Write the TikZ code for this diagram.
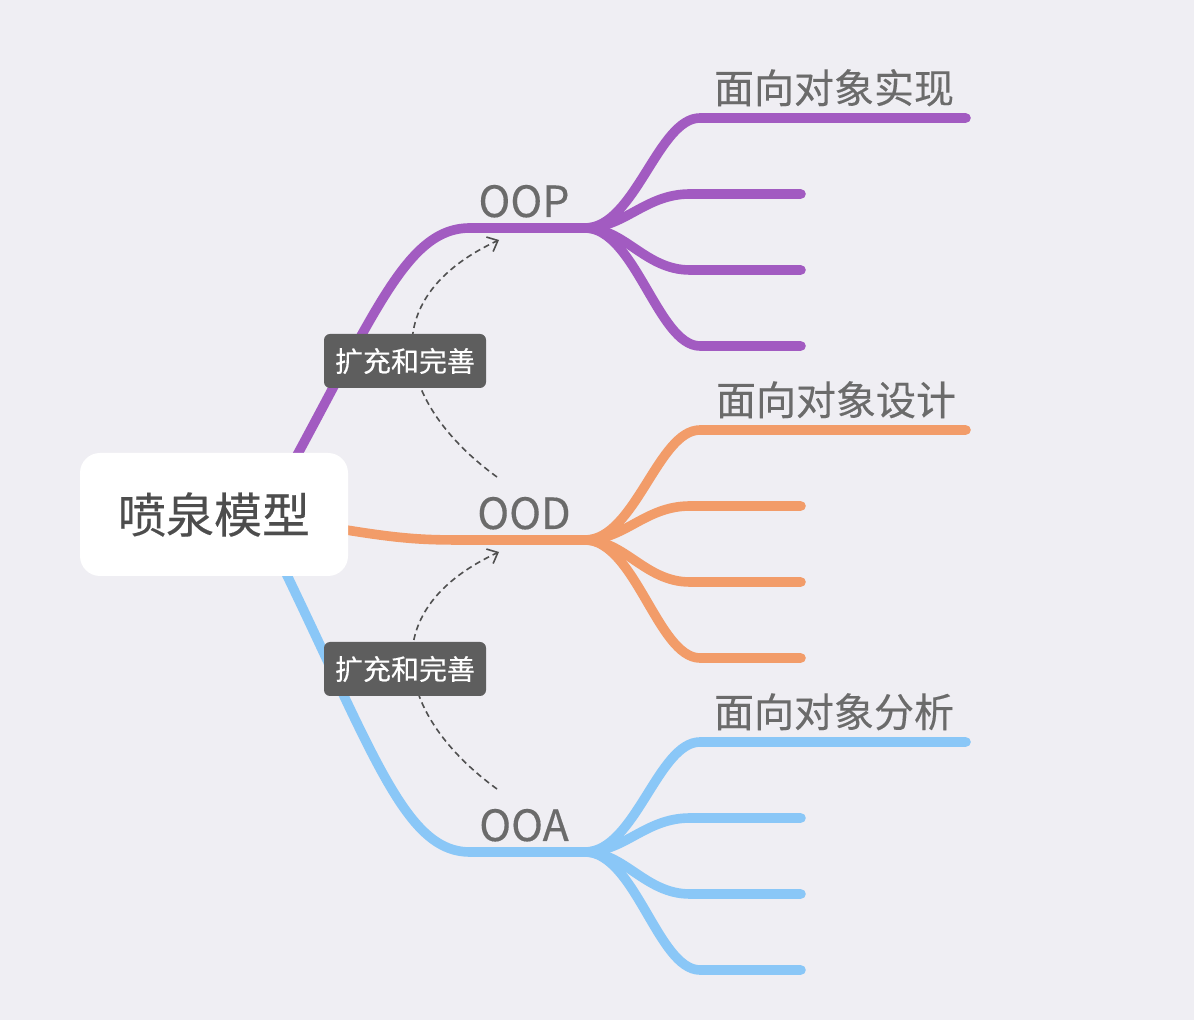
\documentclass[tikz,border=0pt]{standalone}
\usepackage{fontspec}
\setmainfont[FakeBold=0.3]{Noto Sans CJK SC}
\usetikzlibrary{arrows.meta}
\definecolor{bg}{HTML}{EFEEF3}
\definecolor{cp}{HTML}{A25BC1}
\definecolor{co}{HTML}{F29C69}
\definecolor{cb}{HTML}{8AC7F7}
\definecolor{txtg}{HTML}{6B6B6B}
\definecolor{txtd}{HTML}{4D4D4D}
\definecolor{lblbg}{HTML}{5E5E5E}
\definecolor{dashc}{HTML}{4F4F4F}
\begin{document}
\begin{tikzpicture}[x=0.5pt,y=-0.5pt,
  branch/.style={line width=4.8pt,line cap=round},
  centerbox/.style={fill=white,rounded corners=10pt,minimum width=134pt,minimum height=61.5pt,inner sep=0pt,
    text=txtd,font=\fontsize{24pt}{28pt}\selectfont},
  lblbox/.style={fill=lblbg,rounded corners=3pt,minimum width=81pt,minimum height=27pt,inner sep=0pt,
    text=white,font=\fontsize{14pt}{16pt}\selectfont},
  subtxt/.style={anchor=base,text=txtg,inner sep=0pt,font=\fontsize{21.5pt}{26pt}\selectfont},
  leaftxt/.style={anchor=base,text=txtg,inner sep=0pt,font=\fontsize{20pt}{24pt}\selectfont},
  dashlink/.style={draw=dashc,line width=0.8pt,dash pattern=on 3pt off 2pt,
    -{Straight Barb[length=4.5pt,width=8pt,line width=0.8pt]}}
]
\useasboundingbox[fill=bg] (0,0) rectangle (1194,1020);

% fork points
\coordinate (fp) at (585,228);
\coordinate (fd) at (585,540);
\coordinate (fa) at (585,852);
\coordinate (sp) at (250,540);
\coordinate (sd) at (300,522);
\coordinate (sa) at (255,510);

% main branches
\draw[branch,cp] (sp) .. controls (370,330) and (400,228) .. (470,228) -- (fp);
\draw[branch,co] (sd) .. controls (400,540) and (420,540) .. (470,540) -- (fd);
\draw[branch,cb] (sa) .. controls (370,740) and (400,852) .. (470,852) -- (fa);

% sub branches
\foreach \f/\y/\col in {fp/228/cp, fd/540/co, fa/852/cb}{
  \draw[branch,\col] (\f) .. controls (635,\y) and (658,{\y-110}) .. (700,{\y-110}) -- (966,{\y-110});
  \draw[branch,\col] (\f) .. controls (625,\y) and (645,{\y-34}) .. (690,{\y-34}) -- (801,{\y-34});
  \draw[branch,\col] (\f) .. controls (625,\y) and (645,{\y+42}) .. (690,{\y+42}) -- (801,{\y+42});
  \draw[branch,\col] (\f) .. controls (635,\y) and (658,{\y+118}) .. (700,{\y+118}) -- (801,{\y+118});
}

% center node
\node[centerbox] (c) at (214,514.5) {喷泉模型};

% texts
\node[subtxt] (oop) at (524,217) {OOP};
\node[subtxt] (ood) at (524,529) {OOD};
\node[subtxt] (ooa) at (524,841) {OOA};
\node[leaftxt] (l1) at (834,103) {面向对象实现};
\node[leaftxt] (l2) at (836,415) {面向对象设计};
\node[leaftxt] (l3) at (834,727) {面向对象分析};

% dashed relations
\coordinate (r1s) at (497,477);
\coordinate (r1e) at (499,240);
\coordinate (r2s) at (497,789);
\coordinate (r2e) at (499,552);
\draw[dashlink] (r1s) .. controls (398,405) and (370,300) .. (r1e);
\draw[dashlink] (r2s) .. controls (398,717) and (370,612) .. (r2e);
\node[lblbox] (k1) at (405,361) {扩充和完善};
\node[lblbox] (k2) at (405,669) {扩充和完善};
\end{tikzpicture}
\end{document}
